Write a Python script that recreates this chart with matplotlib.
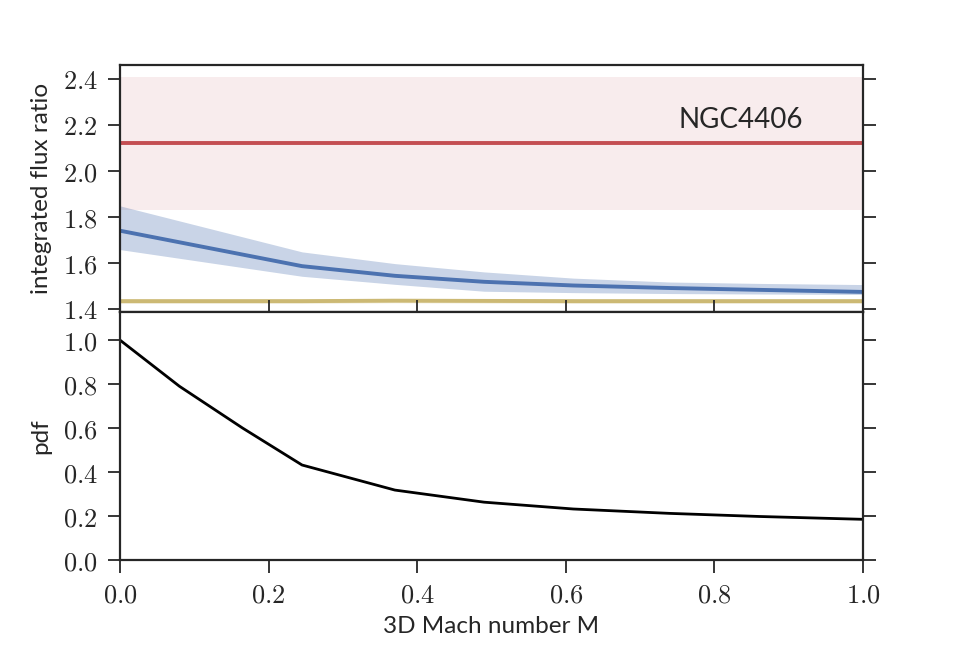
import numpy as np
import matplotlib
matplotlib.use("Agg")
import matplotlib.pyplot as plt
from matplotlib.ticker import FuncFormatter, MultipleLocator

plt.rcParams["mathtext.fontset"] = "cm"
plt.rcParams["font.family"] = ["Lato", "DejaVu Sans"]

# observed flux ratio for NGC4406 with its error band
obs_ratio = 2.12
obs_low = 1.83
obs_high = 2.41

# model flux ratio vs Mach number
mach = [0.0, 0.245, 0.37, 0.49, 0.61, 0.74, 0.86, 1.0]
ratio = [1.741, 1.587, 1.545, 1.519, 1.503, 1.492, 1.484, 1.475]
ratio_low = [1.659, 1.543, 1.508, 1.478, 1.472, 1.468, 1.466, 1.464]
ratio_high = [1.849, 1.649, 1.598, 1.562, 1.535, 1.518, 1.512, 1.507]

# reference ratio (no turbulence)
ref_ratio = [1.435, 1.435, 1.437, 1.436, 1.435, 1.435, 1.435, 1.435]
ref_low = [1.426, 1.426, 1.428, 1.427, 1.426, 1.426, 1.426, 1.426]
ref_high = [1.444, 1.444, 1.446, 1.445, 1.444, 1.444, 1.444, 1.444]

# pdf of Mach number
pdf_mach = [0.0, 0.08, 0.165, 0.245, 0.37, 0.49, 0.61, 0.74, 0.86, 1.0]
pdf = [1.0, 0.79, 0.60, 0.432, 0.318, 0.263, 0.232, 0.212, 0.198, 0.185]

blue = "#4C72B0"
red = "#C44E52"
yellow = "#CCB974"
dark = "#262626"

fig = plt.figure(figsize=(9.6, 6.6), dpi=100)
ax1 = fig.add_axes([0.125, 0.527, 0.774, 0.3745])
ax2 = fig.add_axes([0.125, 0.1515, 0.774, 0.3755], sharex=ax1)

ax1.axhspan(obs_low, obs_high, color=red, alpha=0.1, lw=0)
ax1.axhline(obs_ratio, color=red, lw=2.8)
ax1.fill_between(mach, ratio_low, ratio_high, color=blue, alpha=0.3, lw=0)
ax1.plot(mach, ratio, color=blue, lw=2.8)
ax1.fill_between(mach, ref_low, ref_high, color=yellow, alpha=0.3, lw=0)
ax1.plot(mach, ref_ratio, color=yellow, lw=2.8)
ax1.text(0.752, 2.187, "NGC4406", fontsize=20, color=dark)

ax2.plot(pdf_mach, pdf, color="black", lw=2)

fmt = FuncFormatter(lambda v, p: r"$%.1f$" % v)
for ax in (ax1, ax2):
    for s in ax.spines.values():
        s.set_linewidth(1.6)
        s.set_color(dark)
    ax.yaxis.set_major_formatter(fmt)
    ax.xaxis.set_major_formatter(fmt)
    ax.tick_params(direction="out", length=9, width=1.3, color=dark,
                   labelsize=19, labelcolor=dark, right=True, pad=7)

ax1.set_xlim(0, 1)
ax1.set_ylim(1.387, 2.461)
ax1.yaxis.set_major_locator(MultipleLocator(0.2))
ax1.tick_params(bottom=False, labelbottom=False)
ax1.set_ylabel("integrated flux ratio", fontsize=17.5, color=dark, labelpad=8)

ax2.set_ylim(0, 1.127)
ax2.yaxis.set_major_locator(MultipleLocator(0.2))
ax2.xaxis.set_major_locator(MultipleLocator(0.2))
ax2.tick_params(top=True)
ax2.set_ylabel("pdf", fontsize=17.5, color=dark, labelpad=8)
ax2.set_xlabel("3D Mach number M", fontsize=17.5, color=dark, labelpad=6)

fig.align_ylabels([ax1, ax2])
fig.savefig("out.png", dpi=100)
